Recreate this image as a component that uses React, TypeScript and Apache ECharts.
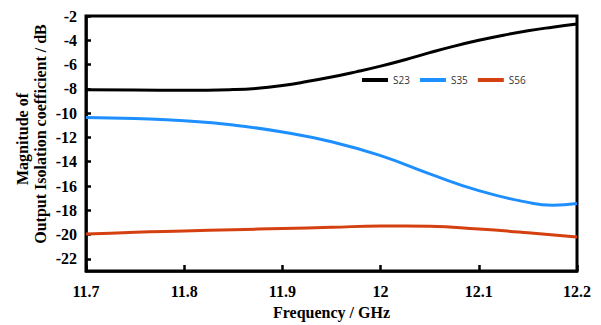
import React, { useEffect, useRef } from "react";
import * as echarts from "echarts";

const s23Freq = [11.7, 11.75, 11.8, 11.85, 11.875, 11.9, 11.925, 11.95, 11.975, 12.0, 12.025, 12.05, 12.075, 12.1, 12.125, 12.15, 12.175, 12.2];
const s23Vals = [-8.07, -8.1, -8.12, -8.06, -7.95, -7.72, -7.4, -7.03, -6.6, -6.13, -5.6, -5.02, -4.48, -4.0, -3.58, -3.22, -2.92, -2.65];

const s35Freq = [11.7, 11.75, 11.8, 11.85, 11.9, 11.95, 12.0, 12.05, 12.1, 12.15, 12.175, 12.2];
const s35Vals = [-10.35, -10.45, -10.63, -10.98, -11.55, -12.35, -13.5, -15.0, -16.38, -17.35, -17.58, -17.45];

const s56Freq = [11.7, 11.75, 11.8, 11.85, 11.9, 11.95, 12.0, 12.05, 12.1, 12.15, 12.2];
const s56Vals = [-19.96, -19.8, -19.7, -19.6, -19.5, -19.4, -19.3, -19.32, -19.55, -19.85, -20.2];

const yTicks = [-22, -20, -18, -16, -14, -12, -10, -8, -6, -4, -2];
const xTicks = [11.7, 11.8, 11.9, 12.0, 12.1, 12.2];

const zip = (xs: number[], ys: number[]) => xs.map((x, i) => [x, ys[i]]);

export default function App() {
  const ref = useRef<HTMLDivElement>(null);
  useEffect(() => {
    if (!ref.current) return;
    const chart = echarts.init(ref.current, undefined, { renderer: "svg" });
    const serif = "Liberation Serif";
    const labelStyle = { fontFamily: serif, fontWeight: "bold" as const, fontSize: 16, color: "#000" };
    chart.setOption({
      animation: false,
      grid: { left: 86, right: 24, top: 16, bottom: 52, show: true, borderColor: "#000", borderWidth: 3, backgroundColor: "transparent" },
      legend: {
        left: 362, top: 75, padding: 0, itemWidth: 26, itemHeight: 4, itemGap: 10, icon: "rect",
        textStyle: { fontFamily: "Open Sans", fontSize: 10, color: "#333" },
        data: ["S23", "S35", "S56"],
      },
      xAxis: {
        type: "value", min: 11.7, max: 12.2, interval: 0.1,
        axisLine: { lineStyle: { color: "#000", width: 2.5 } },
        axisTick: { inside: true, length: 6, lineStyle: { color: "#000", width: 2.5 }, customValues: xTicks },
        axisLabel: { ...labelStyle, margin: 12, customValues: xTicks, formatter: (v: number) => String(Math.round(v * 10) / 10) },
        splitLine: { show: false },
        name: "Frequency / GHz", nameLocation: "middle", nameGap: 33,
        nameTextStyle: { ...labelStyle },
      },
      yAxis: {
        type: "value", min: -23, max: -2,
        axisLine: { lineStyle: { color: "#000", width: 2.5 } },
        axisTick: { inside: true, length: 5, lineStyle: { color: "#000", width: 2.5 }, customValues: yTicks },
        axisLabel: { ...labelStyle, margin: 9, customValues: yTicks },
        splitLine: { show: false },
      },
      graphic: [
        {
          type: "text", x: 22, y: 139, rotation: Math.PI / 2,
          style: { text: "Magnitude of", fontFamily: serif, fontWeight: "bold", fontSize: 16, fill: "#000", align: "center", verticalAlign: "middle" },
        },
        {
          type: "text", x: 40, y: 134, rotation: Math.PI / 2,
          style: { text: "Output Isolation coefficient / dB", fontFamily: serif, fontWeight: "bold", fontSize: 16, fill: "#000", align: "center", verticalAlign: "middle" },
        },
      ],
      series: [
        { name: "S23", type: "line", smooth: 0.5, showSymbol: false, data: zip(s23Freq, s23Vals), lineStyle: { color: "#000", width: 3 }, itemStyle: { color: "#000" } },
        { name: "S35", type: "line", smooth: 0.5, showSymbol: false, data: zip(s35Freq, s35Vals), lineStyle: { color: "#1E8FFF", width: 3 }, itemStyle: { color: "#1E8FFF" } },
        { name: "S56", type: "line", smooth: 0.5, showSymbol: false, data: zip(s56Freq, s56Vals), lineStyle: { color: "#D4400F", width: 3 }, itemStyle: { color: "#D4400F" } },
      ],
    });
    return () => chart.dispose();
  }, []);
  return <div ref={ref} style={{ width: 601, height: 325, position: "absolute", left: 0, top: 0 }} />;
}
